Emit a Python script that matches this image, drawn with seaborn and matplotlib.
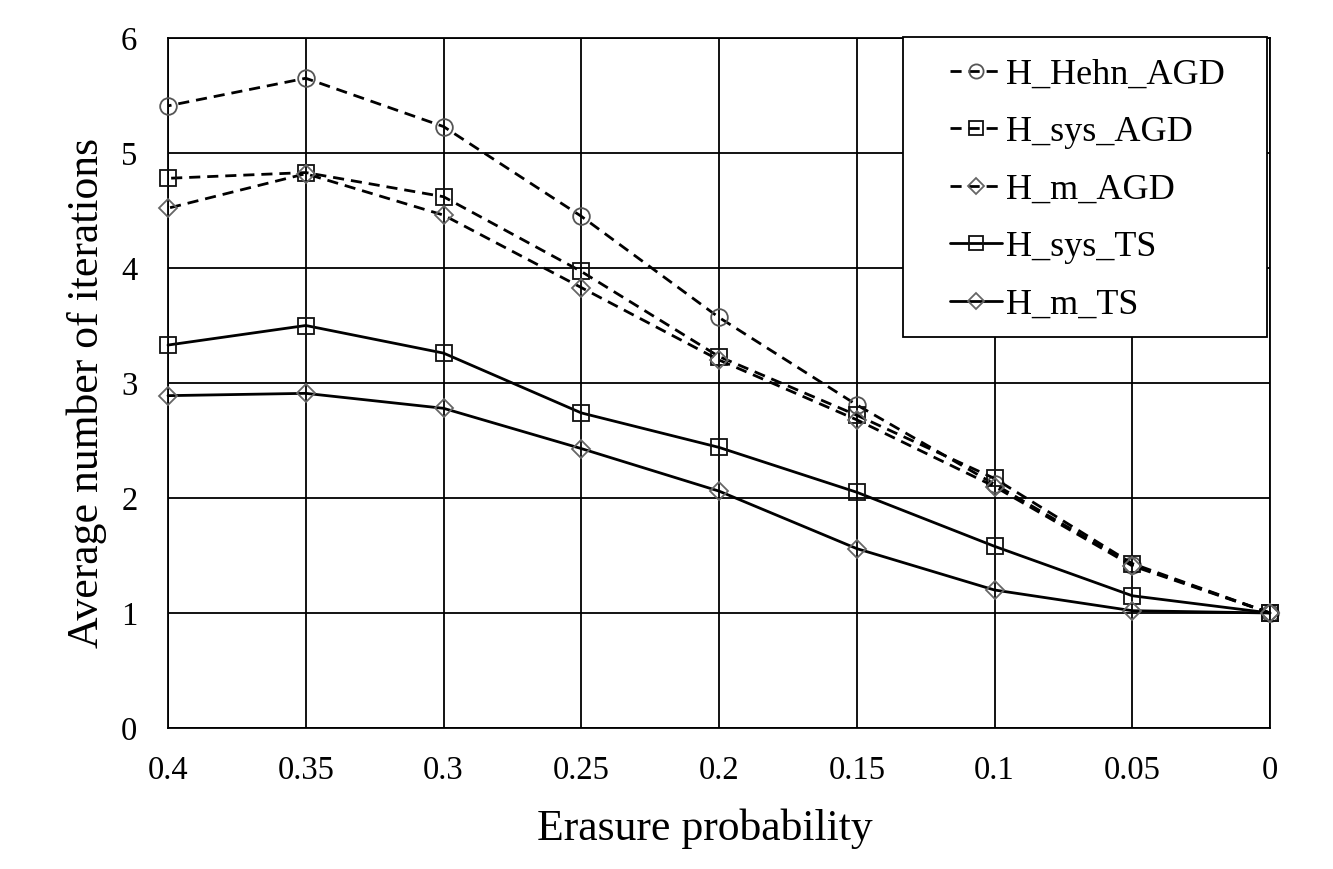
import matplotlib
matplotlib.use("Agg")
import matplotlib.pyplot as plt
import matplotlib.patches as mpatches
import seaborn as sns
import pandas as pd

erasure_prob = [0.4, 0.35, 0.3, 0.25, 0.2, 0.15, 0.1, 0.05, 0.0]
h_hehn_agd = [5.41, 5.65, 5.23, 4.45, 3.57, 2.81, 2.12, 1.42, 1.0]
h_sys_agd = [4.78, 4.83, 4.62, 3.97, 3.23, 2.72, 2.17, 1.43, 1.0]
h_m_agd = [4.52, 4.82, 4.46, 3.83, 3.20, 2.68, 2.10, 1.41, 1.0]
h_sys_ts = [3.33, 3.50, 3.26, 2.74, 2.44, 2.05, 1.58, 1.15, 1.0]
h_m_ts = [2.89, 2.91, 2.78, 2.43, 2.06, 1.56, 1.20, 1.02, 1.0]
series_names = ["H_Hehn_AGD", "H_sys_AGD", "H_m_AGD", "H_sys_TS", "H_m_TS"]
x_ticks = [0.4, 0.35, 0.3, 0.25, 0.2, 0.15, 0.1, 0.05, 0]
y_ticks = [0, 1, 2, 3, 4, 5, 6]

sns.set_style("white")
plt.rcParams["font.family"] = ["Liberation Serif", "DejaVu Serif"]
plt.rcParams["text.color"] = "black"
plt.rcParams["axes.labelcolor"] = "black"
plt.rcParams["xtick.color"] = "black"
plt.rcParams["ytick.color"] = "black"

W, H = 1333, 869
fig = plt.figure(figsize=(W / 100, H / 100), dpi=100)
ax = fig.add_axes([168 / W, 1 - 728 / H, (1270 - 168) / W, (728 - 38) / H])

dash = (0, (4, 2.5))
styles = [
    dict(values=h_hehn_agd, ls=dash, marker="o", ms=12, mec="#555555"),
    dict(values=h_sys_agd, ls=dash, marker="s", ms=12, mec="#111111"),
    dict(values=h_m_agd, ls=dash, marker="D", ms=9, mec="#666666"),
    dict(values=h_sys_ts, ls="-", marker="s", ms=12, mec="#111111"),
    dict(values=h_m_ts, ls="-", marker="D", ms=9, mec="#666666"),
]

for name, st in zip(series_names, styles):
    df = pd.DataFrame({"p": erasure_prob, "v": st["values"]})
    sns.lineplot(data=df, x="p", y="v", ax=ax, color="black", linewidth=2.0,
                 linestyle=st["ls"], marker=st["marker"], markersize=st["ms"],
                 markerfacecolor="none", markeredgecolor=st["mec"],
                 markeredgewidth=1.3, label=name, clip_on=False, zorder=3)

ax.set_xlim(0.4, 0.0)
ax.set_ylim(0, 6)
ax.set_xticks(x_ticks)
ax.set_xticklabels([f"{t:g}" for t in x_ticks])
ax.set_yticks(y_ticks)
ax.grid(True, color="black", linewidth=1.3)
ax.set_axisbelow(True)
for s in ax.spines.values():
    s.set_color("black")
    s.set_linewidth(1.3)
ax.tick_params(axis="both", length=0, labelsize=23.5, colors="black", labelcolor="black")
ax.tick_params(axis="x", pad=20)
ax.tick_params(axis="y", pad=22)
ax.set_xlabel("Erasure probability", fontsize=31.5, labelpad=16, color="black")
ax.set_ylabel("Average number of iterations", fontsize=31.5, labelpad=10, color="black")
ax.xaxis.label.set_x(0.487)
ax.yaxis.label.set_y(0.486)

# legend frame (drawn separately for asymmetric padding)
frame = mpatches.Rectangle((903 / W, 1 - 337 / H), (1267 - 903) / W, (337 - 37) / H,
                           transform=fig.transFigure, facecolor="white",
                           edgecolor="black", linewidth=1.3, zorder=5, clip_on=False)
ax.add_patch(frame)

leg = ax.legend(loc="upper left", fontsize=26, frameon=False, handlelength=1.45,
                borderpad=0.0, labelspacing=0.67, handletextpad=0.1,
                markerscale=0.85, labelcolor="black",
                bbox_to_anchor=(932 / W, 1 - 40 / H), bbox_transform=fig.transFigure)
leg.set_zorder(6)

fig.savefig("out.png", dpi=100)
